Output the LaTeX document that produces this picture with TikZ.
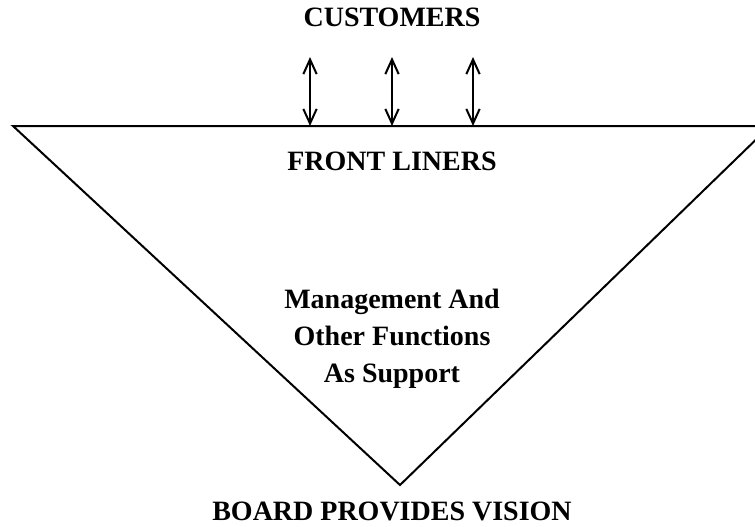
\documentclass[tikz,border=0pt]{standalone}
\usepackage{fontspec}
\setmainfont{Liberation Serif}
\usetikzlibrary{arrows.meta}

\begin{document}
\begin{tikzpicture}[x=0.75pt,y=-0.75pt,line width=1.5pt,
	lbl/.style={font=\fontsize{21}{27.75}\selectfont\bfseries,anchor=base,align=center,inner sep=0pt},
	updown/.style={{Straight Barb[length=11pt,width=10pt]}-{Straight Barb[length=11pt,width=10pt]}}]
	\useasboundingbox (0,0) rectangle (755,526);
	% the inverted pyramid
	\coordinate (tl) at (13,126);
	\coordinate (tr) at (770,126);
	\coordinate (bot) at (400,485);
	\draw[line join=miter] (tr) -- (tl) -- (bot) -- cycle;
	% two way contact with the customers
	\coordinate (a1) at (310,126);
	\coordinate (a2) at (392,126);
	\coordinate (a3) at (473,126);
	\coordinate (b1) at (310,57);
	\coordinate (b2) at (392,57);
	\coordinate (b3) at (473,57);
	\draw[updown] (a1) -- (b1);
	\draw[updown] (a2) -- (b2);
	\draw[updown] (a3) -- (b3);
	\node[lbl] (cust) at (392,26) {CUSTOMERS};
	\node[lbl] (front) at (392,170) {FRONT LINERS};
	% base of a multi-line node is its last line
	\node[lbl] (mgmt) at (392,382) {Management And\\Other Functions\\As Support};
	\node[lbl] (board) at (392,520) {BOARD PROVIDES VISION};
\end{tikzpicture}
\end{document}
